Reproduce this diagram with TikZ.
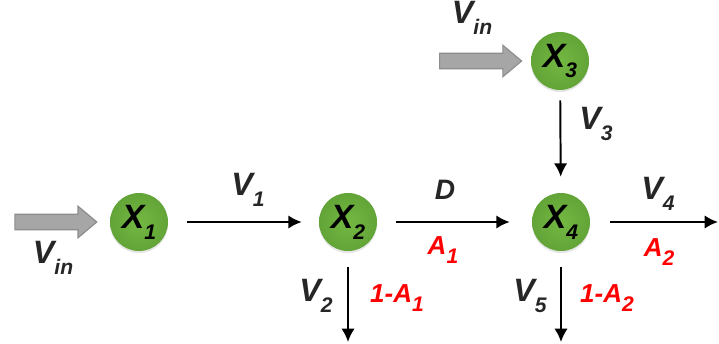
\documentclass[tikz,border=0pt]{standalone}
\usepackage{fontspec}
\setmainfont{Liberation Sans}
\usepackage{xcolor}
\usetikzlibrary{arrows.meta,shapes.arrows,shadows}
\definecolor{leafhi}{HTML}{74B843}
\definecolor{leaflo}{HTML}{62A437}
\definecolor{pipegray}{HTML}{A6A6A6}
\definecolor{pipeedge}{HTML}{8C8C8C}
\definecolor{inkgray}{HTML}{262626}
\newcommand{\sbs}[1]{\raisebox{-0.32em}{\fontsize{15}{15}\selectfont #1}}

\begin{document}
\begin{tikzpicture}
        \tikzset{species/.style={
            circle,
            minimum size=1.45cm,
            inner sep=0pt,
            shading=radial,
            inner color=leafhi,
            outer color=leaflo,
            drop shadow={opacity=0.2, shadow xshift=0pt, shadow yshift=-1.5pt},
            font=\fontsize{24}{26}\selectfont\bfseries\itshape,
            text=black
        }}
        \tikzset{flow/.style={
            line width=1.4pt,
            -{Latex[length=9.5pt,width=9.5pt]}
        }}
        \tikzset{inflow/.style={
            single arrow,
            draw=pipeedge,
            fill=pipegray,
            line width=0.8pt,
            inner xsep=0pt,
            inner ysep=0.18cm,
            minimum height=2.05cm,
            single arrow head extend=0.2cm,
            single arrow tip angle=80
        }}
        \tikzset{rate/.style={
            text=inkgray,
            font=\fontsize{23}{26}\selectfont\bfseries\itshape
        }}
        \tikzset{share/.style={
            text=red,
            font=\fontsize{18.5}{21}\selectfont\bfseries\itshape
        }}
        \useasboundingbox (0,0) rectangle (17.975,-8.6);

        % species
        \node[species] (x1) at (3.475, -5.55) {X\sbs{1}};
        \node[species] (x2) at (8.7, -5.55) {X\sbs{2}};
        \node[species] (x3) at (14.0, -1.525) {X\sbs{3}};
        \node[species] (x4) at (14.025, -5.55) {X\sbs{4}};

        % inputs
        \node[inflow] (in1) at (1.28, -5.55) {};
        \node[inflow] (in3) at (11.9, -1.525) {};
        \node[rate] (vin1) at (1.325, -6.45) {V\sbs{in}};
        \node[rate] (vin3) at (11.8, -0.45) {V\sbs{in}};

        % free ends
        \coordinate (out2) at (8.7, -8.55);
        \coordinate (out4) at (17.95, -5.55);
        \coordinate (out5) at (14.025, -8.55);

        % fluxes
        \draw[flow, shorten <=0.475cm, shorten >=0.425cm] (x1) -- (x2);
        \draw[flow, shorten <=0.475cm, shorten >=0.55cm] (x2) -- (x4);
        \draw[flow, shorten <=0.5cm] (x4) -- (out4);
        \draw[flow, shorten <=0.25cm, shorten >=0.4cm] (x3) -- (x4);
        \draw[flow, shorten <=0.4cm] (x2) -- (out2);
        \draw[flow, shorten <=0.4cm] (x4) -- (out5);

        % labels
        \node[rate] (v1) at (6.2, -4.75) {V\sbs{1}};
        \node[rate, font=\fontsize{20}{22}\selectfont\bfseries\itshape] (d) at (11.125, -4.75) {D};
        \node[rate] (v4) at (16.45, -4.85) {V\sbs{4}};
        \node[rate] (v3) at (14.9, -3.1) {V\sbs{3}};
        \node[rate] (v2) at (7.9, -7.4) {V\sbs{2}};
        \node[rate] (v5) at (13.25, -7.4) {V\sbs{5}};
        \node[share] (a1) at (11.075, -6.25) {A\sbs{1}};
        \node[share] (a2) at (16.475, -6.3) {A\sbs{2}};
        \node[share] (na1) at (9.925, -7.45) {1-A\sbs{1}};
        \node[share] (na2) at (15.175, -7.45) {1-A\sbs{2}};
\end{tikzpicture}
\end{document}
